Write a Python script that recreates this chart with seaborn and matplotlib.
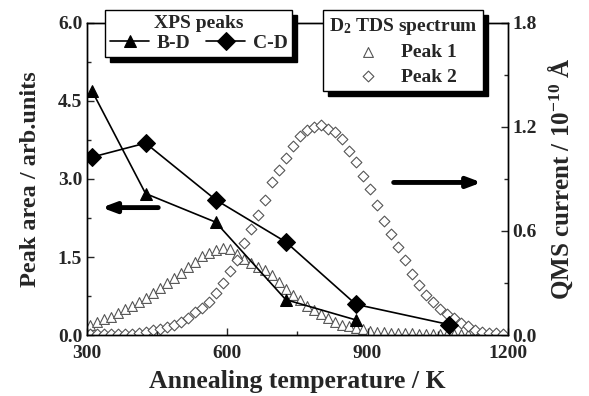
import numpy as np
import pandas as pd
import seaborn as sns
import matplotlib.pyplot as plt
from matplotlib.ticker import MultipleLocator, FormatStrFormatter

# XPS peak areas (left axis)
bd_temp = [310, 425, 575, 725, 875]
bd_area = [4.70, 2.72, 2.17, 0.68, 0.29]
cd_temp = [310, 425, 575, 725, 875, 1075]
cd_area = [3.42, 3.69, 2.60, 1.79, 0.59, 0.20]

# D2 TDS spectrum (right axis)
tds_temp = [305, 320, 335, 350, 365, 380, 395, 410, 425, 440,
            455, 470, 485, 500, 515, 530, 545, 560, 575, 590,
            605, 620, 635, 650, 665, 680, 695, 710, 725, 740,
            755, 770, 785, 800, 815, 830, 845, 860, 875, 890,
            905, 920, 935, 950, 965, 980, 995, 1010, 1025, 1040,
            1055, 1070, 1085, 1100, 1115, 1130, 1145, 1160, 1175, 1190]
peak1 = [0.058, 0.073, 0.090, 0.105, 0.127, 0.148, 0.165, 0.190, 0.212, 0.240,
         0.270, 0.300, 0.330, 0.360, 0.390, 0.420, 0.455, 0.475, 0.490, 0.500,
         0.495, 0.465, 0.440, 0.415, 0.395, 0.375, 0.345, 0.305, 0.265, 0.228,
         0.200, 0.170, 0.143, 0.122, 0.100, 0.077, 0.060, 0.050, 0.040, 0.032,
         0.025, 0.020, 0.016, 0.013, 0.011, 0.010, 0.009, 0.008, 0.007, 0.006,
         0.006, 0.005, 0.005, 0.004, 0.004, 0.004, 0.003, 0.003, 0.003, 0.003]
peak2 = [0.003, 0.003, 0.003, 0.004, 0.004, 0.005, 0.006, 0.010, 0.018, 0.027,
         0.035, 0.045, 0.055, 0.075, 0.100, 0.130, 0.155, 0.190, 0.240, 0.300,
         0.370, 0.430, 0.530, 0.610, 0.690, 0.780, 0.880, 0.950, 1.020, 1.090,
         1.150, 1.180, 1.200, 1.210, 1.190, 1.170, 1.130, 1.060, 1.000, 0.920,
         0.840, 0.750, 0.660, 0.580, 0.510, 0.430, 0.350, 0.290, 0.230, 0.190,
         0.150, 0.120, 0.100, 0.070, 0.050, 0.030, 0.020, 0.010, 0.010, 0.005]

xps_df = pd.concat([
    pd.DataFrame({'temp': bd_temp, 'area': bd_area, 'peak': 'B-D'}),
    pd.DataFrame({'temp': cd_temp, 'area': cd_area, 'peak': 'C-D'}),
])
tds_df = pd.concat([
    pd.DataFrame({'temp': tds_temp, 'current': peak1, 'peak': 'Peak 1'}),
    pd.DataFrame({'temp': tds_temp, 'current': peak2, 'peak': 'Peak 2'}),
])

sns.set_style('ticks')
plt.rcParams['font.family'] = ['Liberation Serif', 'DejaVu Serif']
plt.rcParams['font.weight'] = 'bold'
plt.rcParams['axes.labelweight'] = 'bold'
plt.rcParams['mathtext.fontset'] = 'custom'
plt.rcParams['mathtext.rm'] = 'Liberation Serif:bold'
plt.rcParams['mathtext.bf'] = 'Liberation Serif:bold'
plt.rcParams['mathtext.default'] = 'bf'

fig = plt.figure(figsize=(5.89, 3.96), dpi=100)
ax = fig.add_axes([0.148, 0.154, 0.714, 0.788])
ax2 = ax.twinx()

# TDS open markers
sns.scatterplot(data=tds_df[tds_df['peak'] == 'Peak 1'], x='temp', y='current', ax=ax2,
                marker='^', s=50, facecolor='white', edgecolor='#555555', linewidth=0.8,
                label='Peak 1', zorder=2)
sns.scatterplot(data=tds_df[tds_df['peak'] == 'Peak 2'], x='temp', y='current', ax=ax2,
                marker='D', s=30, facecolor='white', edgecolor='#555555', linewidth=0.8,
                label='Peak 2', zorder=2)

# XPS filled markers with lines
ax.set_zorder(ax2.get_zorder() + 1)
ax.patch.set_visible(False)
sns.lineplot(data=xps_df, x='temp', y='area', hue='peak', style='peak',
             markers={'B-D': '^', 'C-D': 'D'}, dashes=False,
             palette={'B-D': 'black', 'C-D': 'black'}, ax=ax,
             linewidth=1.2, markersize=9, markeredgecolor='black')

ax.set_xlim(300, 1200)
ax.set_ylim(0, 6)
ax2.set_ylim(0, 1.8)
ax.xaxis.set_major_locator(MultipleLocator(300))
ax.xaxis.set_minor_locator(MultipleLocator(150))
ax.yaxis.set_major_locator(MultipleLocator(1.5))
ax.yaxis.set_minor_locator(MultipleLocator(0.75))
ax2.yaxis.set_major_locator(MultipleLocator(0.6))
ax2.yaxis.set_minor_locator(MultipleLocator(0.3))
ax.yaxis.set_major_formatter(FormatStrFormatter('%.1f'))
ax2.yaxis.set_major_formatter(FormatStrFormatter('%.1f'))

for a in (ax, ax2):
    a.tick_params(which='both', direction='in', labelsize=14, width=1)
    a.tick_params(which='major', length=5)
    a.tick_params(which='minor', length=3)
    for s in a.spines.values():
        s.set_visible(True)
        s.set_linewidth(1)
        s.set_color('black')
ax.tick_params(axis='x', pad=7)

ax.set_xlabel('Annealing temperature / K', fontsize=18.5, labelpad=6)
ax.set_ylabel('Peak area / arb.units', fontsize=17.5, labelpad=12)
ax2.set_ylabel(r'QMS current / 10$^{-10}$ Å', fontsize=18, rotation=90, labelpad=6)

# arrows pointing to the axis each data set belongs to
ax.annotate('', xy=(325, 2.45), xytext=(458, 2.45),
            arrowprops=dict(arrowstyle='-|>,head_length=0.8,head_width=0.3', lw=3.5, color='black'))
ax2.annotate('', xy=(1150, 0.88), xytext=(950, 0.88),
             arrowprops=dict(arrowstyle='-|>,head_length=0.8,head_width=0.3', lw=3.5, color='black'))

shadow = {'color': 'black', 'alpha': 1, 'ox': 3.5, 'oy': -3.5}
h1, l1 = ax.get_legend_handles_labels()
leg1 = ax.legend(h1, l1, title='XPS peaks', ncol=2, loc='upper left',
                 bbox_to_anchor=(0.043, 1.042), borderaxespad=0, frameon=True,
                 fancybox=False, shadow=shadow, edgecolor='black', framealpha=1,
                 fontsize=14, title_fontsize=14, handlelength=2.0,
                 handletextpad=0.4, columnspacing=0.8, borderpad=0.25,
                 labelspacing=0.15)
leg1.get_frame().set_linewidth(1)
leg1.get_title().set_fontweight('bold')

h2, l2 = ax2.get_legend_handles_labels()
leg2 = ax.legend(h2, l2, title=r'D$_2$ TDS spectrum', loc='upper left',
                 bbox_to_anchor=(0.56, 1.042), borderaxespad=0, frameon=True,
                 fancybox=False, shadow=shadow, edgecolor='black', framealpha=1,
                 fontsize=14, title_fontsize=14, handletextpad=0.7,
                 borderpad=0.3, labelspacing=0.35)
leg2.get_frame().set_linewidth(1)
leg2.get_title().set_fontweight('bold')
ax.add_artist(leg1)
if ax2.get_legend() is not None:
    ax2.get_legend().remove()

fig.savefig('out.png', dpi=100)
